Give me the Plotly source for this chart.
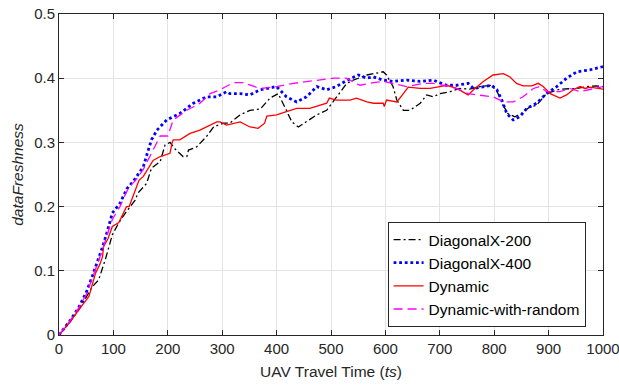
import plotly.graph_objects as go

# DiagonalX-200 (black dash-dot)
diag200_t = [0, 20, 37, 50, 61, 73, 86, 98, 110, 122, 140, 145, 161, 170, 180, 186, 195, 204, 213,
             228, 235, 238, 253, 271, 284, 302, 314, 333, 351, 370, 388, 403, 418, 428, 440, 455,
             474, 492, 510, 529, 541, 566, 596, 602, 614, 621, 633, 645, 664, 676, 688, 700, 719,
             737, 755, 774, 795, 805, 815, 825, 838, 850, 865, 878, 896, 921, 952, 970, 988, 1000]
diag200_v = [0, 0.02, 0.04, 0.058, 0.075, 0.086, 0.12, 0.156, 0.175, 0.19, 0.21, 0.221, 0.236, 0.26,
             0.267, 0.27, 0.296, 0.3, 0.29, 0.278, 0.278, 0.288, 0.293, 0.309, 0.324, 0.33, 0.33,
             0.343, 0.35, 0.352, 0.369, 0.376, 0.35, 0.332, 0.324, 0.332, 0.343, 0.35, 0.371, 0.392,
             0.397, 0.405, 0.41, 0.405, 0.387, 0.366, 0.35, 0.35, 0.361, 0.374, 0.371, 0.376, 0.379,
             0.384, 0.383, 0.387, 0.389, 0.38, 0.36, 0.345, 0.34, 0.345, 0.355, 0.358, 0.376, 0.383,
             0.384, 0.387, 0.388, 0.387]

# DiagonalX-400 (blue dotted)
diag400_t = [0, 20, 37, 50, 61, 70, 80, 90, 98, 112, 125, 137, 155, 163, 170, 180, 198, 222, 247,
             271, 290, 308, 314, 333, 351, 370, 400, 418, 437, 455, 474, 492, 510, 530, 550, 566,
             578, 596, 614, 639, 664, 688, 712, 731, 752, 762, 780, 795, 805, 814, 823, 835, 847,
             860, 878, 896, 915, 933, 952, 976, 1000]
diag400_v = [0, 0.022, 0.044, 0.066, 0.091, 0.112, 0.137, 0.165, 0.19, 0.205, 0.228, 0.24, 0.262,
             0.285, 0.304, 0.319, 0.335, 0.345, 0.361, 0.371, 0.371, 0.379, 0.376, 0.376, 0.374,
             0.382, 0.387, 0.371, 0.363, 0.371, 0.387, 0.382, 0.387, 0.397, 0.405, 0.4, 0.402,
             0.397, 0.395, 0.397, 0.395, 0.397, 0.389, 0.389, 0.392, 0.384, 0.387, 0.389, 0.382,
             0.366, 0.345, 0.335, 0.34, 0.353, 0.361, 0.376, 0.387, 0.4, 0.41, 0.413, 0.418]

# Dynamic (red solid)
dynamic_t = [0, 20, 37, 55, 67, 75, 80, 82, 90, 98, 110, 124, 129, 147, 155, 173, 186, 204, 208,
             210, 222, 241, 259, 271, 290, 296, 308, 333, 351, 366, 378, 382, 400, 418, 437, 461,
             480, 492, 497, 510, 535, 547, 566, 578, 596, 598, 602, 621, 633, 642, 664, 682, 700,
             713, 731, 746, 752, 762, 780, 798, 817, 829, 841, 853, 869, 881, 890, 903, 921, 933,
             945, 958, 967, 976, 988, 1000]
dynamic_v = [0, 0.02, 0.04, 0.06, 0.096, 0.11, 0.122, 0.138, 0.15, 0.169, 0.175, 0.2, 0.2, 0.241,
             0.247, 0.272, 0.278, 0.283, 0.3, 0.304, 0.304, 0.314, 0.319, 0.324, 0.332, 0.332,
             0.327, 0.332, 0.324, 0.322, 0.33, 0.341, 0.343, 0.348, 0.353, 0.353, 0.358, 0.361,
             0.369, 0.366, 0.366, 0.369, 0.363, 0.361, 0.361, 0.356, 0.366, 0.363, 0.376, 0.386,
             0.384, 0.384, 0.387, 0.389, 0.384, 0.376, 0.374, 0.382, 0.395, 0.405, 0.407, 0.402,
             0.392, 0.388, 0.388, 0.392, 0.387, 0.376, 0.369, 0.374, 0.382, 0.387, 0.384, 0.386,
             0.384, 0.383]

# Dynamic-with-random (magenta dashed)
dynrand_t = [0, 20, 37, 50, 61, 70, 80, 90, 98, 105, 112, 128, 140, 155, 167, 180, 186, 200, 210,
             235, 259, 278, 296, 320, 338, 370, 400, 431, 455, 480, 504, 528, 553, 578, 596, 639,
             670, 688, 719, 737, 752, 768, 798, 817, 835, 853, 872, 884, 896, 921, 939, 958, 976,
             1000]
dynrand_v = [0, 0.022, 0.043, 0.063, 0.088, 0.108, 0.133, 0.16, 0.18, 0.19, 0.2, 0.23, 0.24,
             0.258, 0.278, 0.3, 0.31, 0.31, 0.335, 0.35, 0.361, 0.376, 0.382, 0.393, 0.393, 0.384,
             0.387, 0.392, 0.395, 0.397, 0.4, 0.4, 0.389, 0.393, 0.395, 0.387, 0.392, 0.392, 0.387,
             0.382, 0.376, 0.374, 0.371, 0.363, 0.363, 0.371, 0.384, 0.387, 0.379, 0.379, 0.384,
             0.379, 0.382, 0.387]

x_ticks = [0, 100, 200, 300, 400, 500, 600, 700, 800, 900, 1000]
y_ticks = [0, 0.1, 0.2, 0.3, 0.4, 0.5]
y_tick_text = ["0", "0.1", "0.2", "0.3", "0.4", "0.5"]

FONT = "Liberation Sans, Arial, sans-serif"

fig = go.Figure()
fig.add_trace(go.Scatter(x=diag200_t, y=diag200_v, mode="lines", name="DiagonalX-200",
                         line=dict(color="black", width=1.3, dash="7px,3px,2px,3px")))
fig.add_trace(go.Scatter(x=diag400_t, y=diag400_v, mode="lines", name="DiagonalX-400",
                         line=dict(color="#0000ff", width=2.8, dash="2.8px,2.8px")))
fig.add_trace(go.Scatter(x=dynamic_t, y=dynamic_v, mode="lines", name="Dynamic",
                         line=dict(color="#ff0000", width=1.3)))
fig.add_trace(go.Scatter(x=dynrand_t, y=dynrand_v, mode="lines", name="Dynamic-with-random",
                         line=dict(color="#ff00ff", width=1.3, dash="9px,5px")))

axis_common = dict(
    showline=True, linecolor="#262626", linewidth=1, mirror="ticks",
    ticks="inside", ticklen=5, tickcolor="#262626",
    showgrid=True, gridcolor="#e3e3e3", gridwidth=1, zeroline=False,
    tickfont=dict(family=FONT, size=15, color="#262626"),
    ticklabeloverflow="allow", automargin=False,
)

fig.update_layout(
    width=619, height=386,
    margin=dict(l=59, r=16, t=14, b=51),
    paper_bgcolor="white", plot_bgcolor="white",
    font=dict(family=FONT, size=15, color="#262626"),
    xaxis=dict(range=[0, 1000], tickvals=x_ticks, ticktext=[str(v) for v in x_ticks],
               title=dict(text="UAV Travel Time (<i>ts</i>)", standoff=10,
                          font=dict(family=FONT, size=15.5, color="#262626")),
               **axis_common),
    yaxis=dict(range=[0, 0.5], tickvals=y_ticks, ticktext=y_tick_text,
               title=dict(text="<i>dataFreshness</i>", standoff=6,
                          font=dict(family=FONT, size=15.5, color="#262626")),
               **axis_common),
    legend=dict(x=0.968, y=0.025, xanchor="right", yanchor="bottom",
                bgcolor="white", bordercolor="#262626", borderwidth=1,
                font=dict(family=FONT, size=15.5, color="black"),
                tracegroupgap=0, itemwidth=30),
    showlegend=True,
)

fig.write_html("out.html")
